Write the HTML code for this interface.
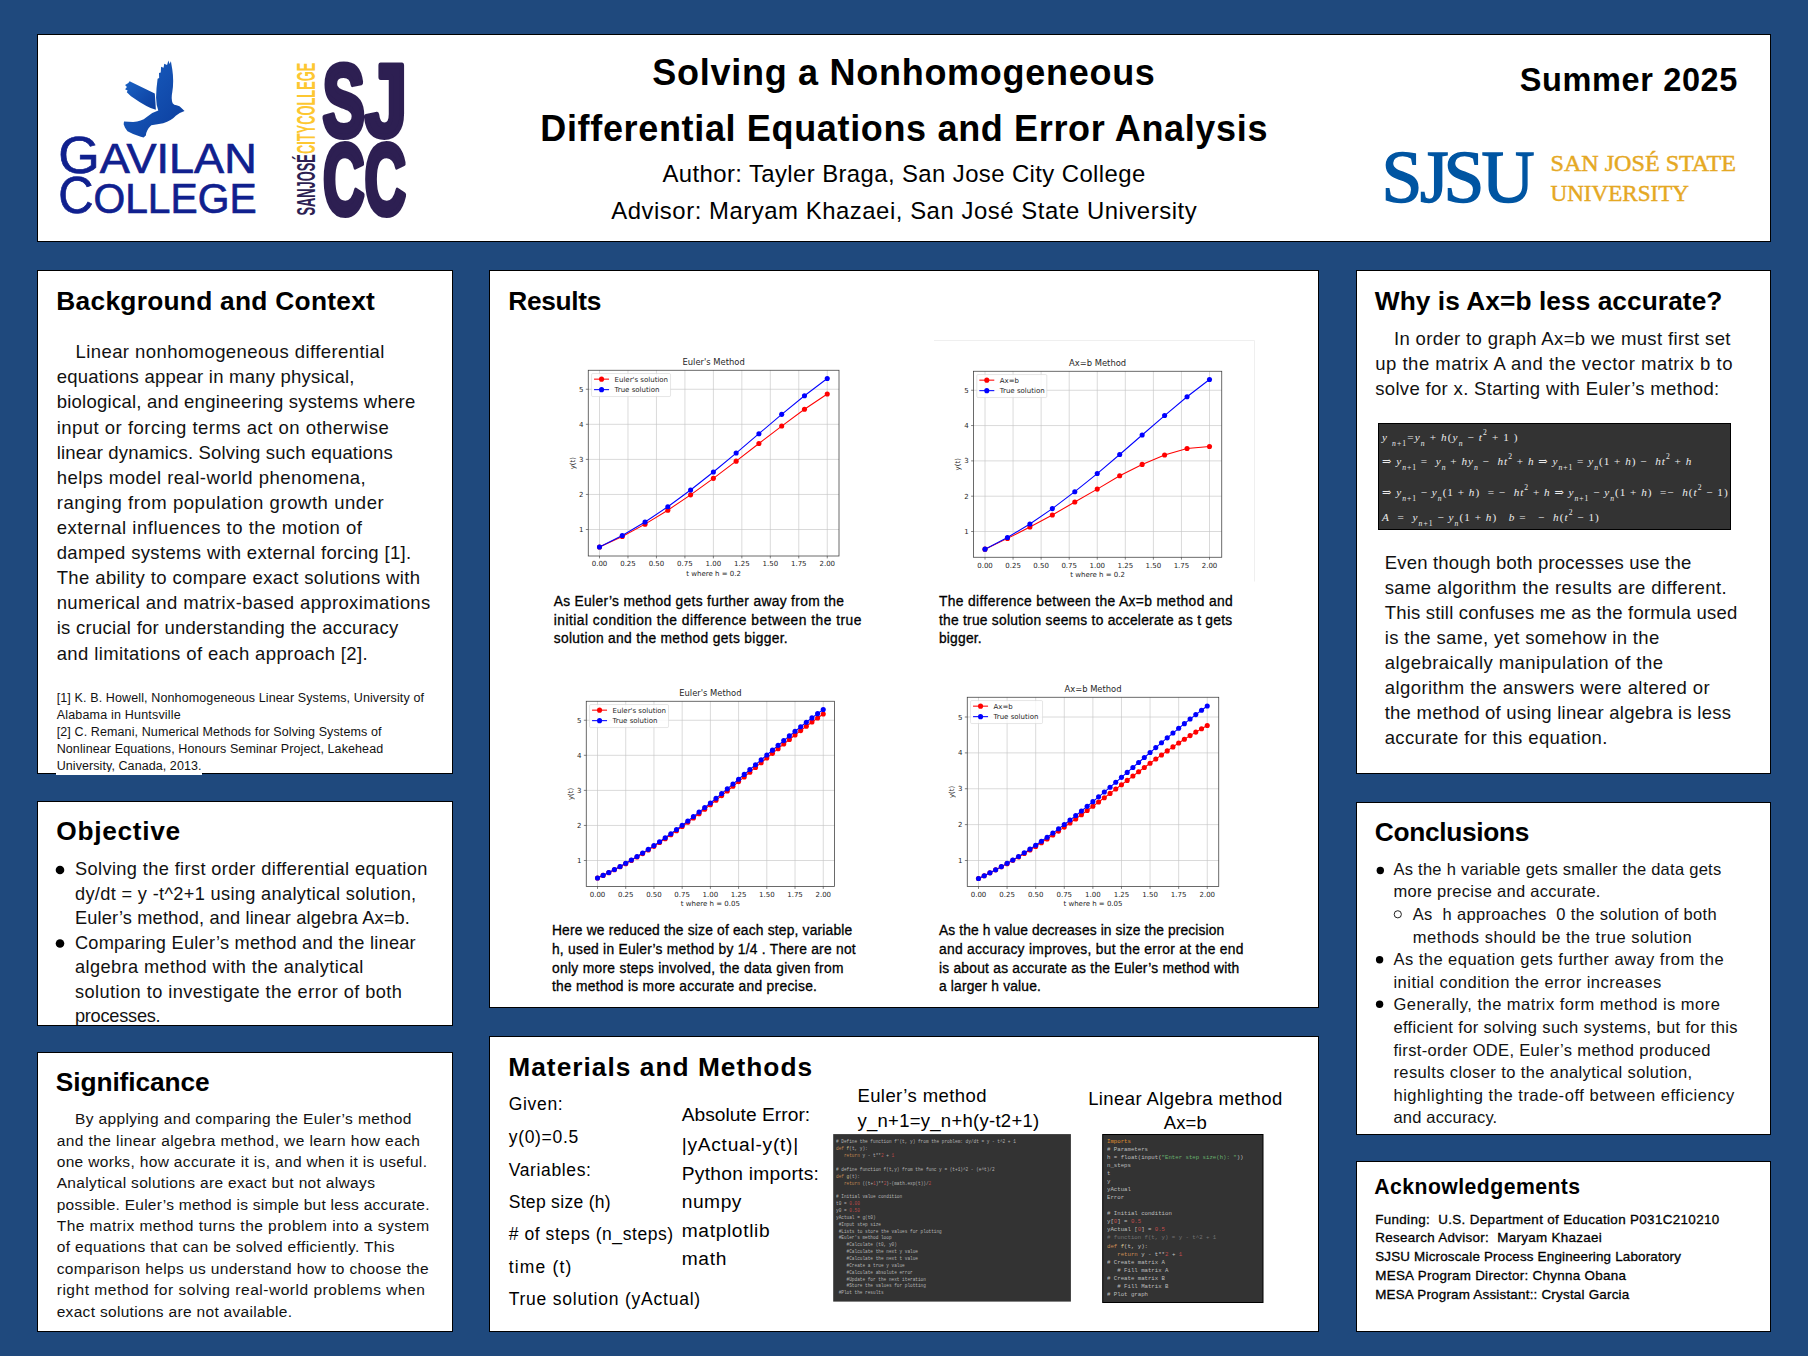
<!DOCTYPE html>
<html lang="en"><head><meta charset="utf-8"><title>Solving a Nonhomogeneous Differential Equations and Error Analysis</title>
<style>
html,body{margin:0;padding:0}
body{width:1808px;height:1356px;background:#1f497d;position:relative;overflow:hidden;font-family:'Liberation Sans',sans-serif;color:#111}
.p{position:absolute;background:#fff;border:1px solid #000;box-sizing:border-box}
.t{position:absolute;white-space:pre;line-height:0;height:0}
.h{-webkit-text-stroke:.3px #000}
.f sub,.f sup{font-size:7.6px;line-height:0}
.f sub{vertical-align:-5.2px}
.f sup{vertical-align:5.6px}
svg{position:absolute;overflow:visible}
</style></head>
<body>
<div class="p" style="left:37px;top:34px;width:1734px;height:208px"></div><div class="p" style="left:37px;top:270px;width:416px;height:504px"></div><div class="p" style="left:37px;top:801px;width:416px;height:225px"></div><div class="p" style="left:37px;top:1052px;width:416px;height:280px"></div><div class="p" style="left:489px;top:270px;width:830px;height:738px"></div><div class="p" style="left:489px;top:1036px;width:830px;height:296px"></div><div class="p" style="left:1356px;top:270px;width:415px;height:504px"></div><div class="p" style="left:1356px;top:802px;width:415px;height:333px"></div><div class="p" style="left:1356px;top:1161px;width:415px;height:171px"></div>
<svg width="1808" height="1356" viewBox="0 0 1808 1356" style="left:0;top:0"><g font-family="'DejaVu Sans',sans-serif" fill="#262626"><path d="M599.5 370.25V556M627.97 370.25V556M656.44 370.25V556M684.91 370.25V556M713.38 370.25V556M741.84 370.25V556M770.31 370.25V556M798.78 370.25V556M827.25 370.25V556M588.25 529.5H839M588.25 494.44H839M588.25 459.38H839M588.25 424.31H839M588.25 389.25H839" stroke="#c6c6c6" stroke-width=".65" fill="none"/><path d="M599.5 556v2.4M627.97 556v2.4M656.44 556v2.4M684.91 556v2.4M713.38 556v2.4M741.84 556v2.4M770.31 556v2.4M798.78 556v2.4M827.25 556v2.4M588.25 529.5h-2.4M588.25 494.44h-2.4M588.25 459.38h-2.4M588.25 424.31h-2.4M588.25 389.25h-2.4" stroke="#333" stroke-width=".6" fill="none"/><polyline points="599.5,547.03 622.27,536.51 645.05,524.17 667.83,510.2 690.6,494.84 713.38,478.37 736.15,461.13 758.92,443.53 781.7,426.06 804.48,409.3 827.25,393.96" fill="none" stroke="#f00" stroke-width="1.05"/><g fill="#f00"><circle cx="599.5" cy="547.03" r="2.55"/><circle cx="622.27" cy="536.51" r="2.55"/><circle cx="645.05" cy="524.17" r="2.55"/><circle cx="667.83" cy="510.2" r="2.55"/><circle cx="690.6" cy="494.84" r="2.55"/><circle cx="713.38" cy="478.37" r="2.55"/><circle cx="736.15" cy="461.13" r="2.55"/><circle cx="758.92" cy="443.53" r="2.55"/><circle cx="781.7" cy="426.06" r="2.55"/><circle cx="804.48" cy="409.3" r="2.55"/><circle cx="827.25" cy="393.96" r="2.55"/></g><polyline points="599.5,547.03 622.27,535.49 645.05,521.99 667.83,506.75 690.6,489.98 713.38,471.97 736.15,453.07 758.92,433.7 781.7,414.37 804.48,395.73 827.25,378.54" fill="none" stroke="#00f" stroke-width="1.05"/><g fill="#00f"><circle cx="599.5" cy="547.03" r="2.55"/><circle cx="622.27" cy="535.49" r="2.55"/><circle cx="645.05" cy="521.99" r="2.55"/><circle cx="667.83" cy="506.75" r="2.55"/><circle cx="690.6" cy="489.98" r="2.55"/><circle cx="713.38" cy="471.97" r="2.55"/><circle cx="736.15" cy="453.07" r="2.55"/><circle cx="758.92" cy="433.7" r="2.55"/><circle cx="781.7" cy="414.37" r="2.55"/><circle cx="804.48" cy="395.73" r="2.55"/><circle cx="827.25" cy="378.54" r="2.55"/></g><rect x="588.25" y="370.25" width="250.75" height="185.75" fill="none" stroke="#3a3a3a" stroke-width=".75"/><rect x="591.55" y="373.55" width="79" height="23" rx="1.2" fill="#fff" fill-opacity=".8" stroke="#d4d4d4" stroke-width=".6"/><path d="M594.05 379.15h15" stroke="#f00" stroke-width="1.05"/><circle cx="601.55" cy="379.15" r="2.55" fill="#f00"/><text x="614.55" y="381.65" font-size="7">Euler's solution</text><path d="M594.05 389.65h15" stroke="#00f" stroke-width="1.05"/><circle cx="601.55" cy="389.65" r="2.55" fill="#00f"/><text x="614.55" y="392.15" font-size="7">True solution</text><text x="599.5" y="566.4" font-size="7" text-anchor="middle">0.00</text><text x="627.97" y="566.4" font-size="7" text-anchor="middle">0.25</text><text x="656.44" y="566.4" font-size="7" text-anchor="middle">0.50</text><text x="684.91" y="566.4" font-size="7" text-anchor="middle">0.75</text><text x="713.38" y="566.4" font-size="7" text-anchor="middle">1.00</text><text x="741.84" y="566.4" font-size="7" text-anchor="middle">1.25</text><text x="770.31" y="566.4" font-size="7" text-anchor="middle">1.50</text><text x="798.78" y="566.4" font-size="7" text-anchor="middle">1.75</text><text x="827.25" y="566.4" font-size="7" text-anchor="middle">2.00</text><text x="583.35" y="532.1" font-size="7" text-anchor="end">1</text><text x="583.35" y="497.04" font-size="7" text-anchor="end">2</text><text x="583.35" y="461.98" font-size="7" text-anchor="end">3</text><text x="583.35" y="426.91" font-size="7" text-anchor="end">4</text><text x="583.35" y="391.85" font-size="7" text-anchor="end">5</text><text x="713.62" y="365.45" font-size="8.4" text-anchor="middle">Euler's Method</text><text x="713.62" y="575.7" font-size="7" text-anchor="middle">t where h = 0.2</text><text transform="translate(574.65 463.12) rotate(-90)" font-size="7" text-anchor="middle">y(t)</text></g><g font-family="'DejaVu Sans',sans-serif" fill="#262626"><path d="M985 371.25V557.25M1013.06 371.25V557.25M1041.12 371.25V557.25M1069.19 371.25V557.25M1097.25 371.25V557.25M1125.31 371.25V557.25M1153.38 371.25V557.25M1181.44 371.25V557.25M1209.5 371.25V557.25M973.5 531.5H1221.75M973.5 496.19H1221.75M973.5 460.88H1221.75M973.5 425.56H1221.75M973.5 390.25H1221.75" stroke="#c6c6c6" stroke-width=".65" fill="none"/><path d="M985 557.25v2.4M1013.06 557.25v2.4M1041.12 557.25v2.4M1069.19 557.25v2.4M1097.25 557.25v2.4M1125.31 557.25v2.4M1153.38 557.25v2.4M1181.44 557.25v2.4M1209.5 557.25v2.4M973.5 531.5h-2.4M973.5 496.19h-2.4M973.5 460.88h-2.4M973.5 425.56h-2.4M973.5 390.25h-2.4" stroke="#333" stroke-width=".6" fill="none"/><polyline points="985,549.16 1007.45,538.39 1029.9,527.02 1052.35,515.01 1074.8,502.01 1097.25,489.12 1119.7,475.71 1142.15,464.41 1164.6,455.01 1187.05,448.52 1209.5,446.5" fill="none" stroke="#f00" stroke-width="1.05"/><g fill="#f00"><circle cx="985" cy="549.16" r="2.55"/><circle cx="1007.45" cy="538.39" r="2.55"/><circle cx="1029.9" cy="527.02" r="2.55"/><circle cx="1052.35" cy="515.01" r="2.55"/><circle cx="1074.8" cy="502.01" r="2.55"/><circle cx="1097.25" cy="489.12" r="2.55"/><circle cx="1119.7" cy="475.71" r="2.55"/><circle cx="1142.15" cy="464.41" r="2.55"/><circle cx="1164.6" cy="455.01" r="2.55"/><circle cx="1187.05" cy="448.52" r="2.55"/><circle cx="1209.5" cy="446.5" r="2.55"/></g><polyline points="985,549.16 1007.45,537.53 1029.9,523.94 1052.35,508.58 1074.8,491.69 1097.25,473.56 1119.7,454.52 1142.15,435.01 1164.6,415.55 1187.05,396.78 1209.5,379.46" fill="none" stroke="#00f" stroke-width="1.05"/><g fill="#00f"><circle cx="985" cy="549.16" r="2.55"/><circle cx="1007.45" cy="537.53" r="2.55"/><circle cx="1029.9" cy="523.94" r="2.55"/><circle cx="1052.35" cy="508.58" r="2.55"/><circle cx="1074.8" cy="491.69" r="2.55"/><circle cx="1097.25" cy="473.56" r="2.55"/><circle cx="1119.7" cy="454.52" r="2.55"/><circle cx="1142.15" cy="435.01" r="2.55"/><circle cx="1164.6" cy="415.55" r="2.55"/><circle cx="1187.05" cy="396.78" r="2.55"/><circle cx="1209.5" cy="379.46" r="2.55"/></g><rect x="973.5" y="371.25" width="248.25" height="186" fill="none" stroke="#3a3a3a" stroke-width=".75"/><rect x="976.8" y="374.55" width="70" height="23" rx="1.2" fill="#fff" fill-opacity=".8" stroke="#d4d4d4" stroke-width=".6"/><path d="M979.3 380.15h15" stroke="#f00" stroke-width="1.05"/><circle cx="986.8" cy="380.15" r="2.55" fill="#f00"/><text x="999.8" y="382.65" font-size="7">Ax=b</text><path d="M979.3 390.65h15" stroke="#00f" stroke-width="1.05"/><circle cx="986.8" cy="390.65" r="2.55" fill="#00f"/><text x="999.8" y="393.15" font-size="7">True solution</text><text x="985" y="567.65" font-size="7" text-anchor="middle">0.00</text><text x="1013.06" y="567.65" font-size="7" text-anchor="middle">0.25</text><text x="1041.12" y="567.65" font-size="7" text-anchor="middle">0.50</text><text x="1069.19" y="567.65" font-size="7" text-anchor="middle">0.75</text><text x="1097.25" y="567.65" font-size="7" text-anchor="middle">1.00</text><text x="1125.31" y="567.65" font-size="7" text-anchor="middle">1.25</text><text x="1153.38" y="567.65" font-size="7" text-anchor="middle">1.50</text><text x="1181.44" y="567.65" font-size="7" text-anchor="middle">1.75</text><text x="1209.5" y="567.65" font-size="7" text-anchor="middle">2.00</text><text x="968.6" y="534.1" font-size="7" text-anchor="end">1</text><text x="968.6" y="498.79" font-size="7" text-anchor="end">2</text><text x="968.6" y="463.48" font-size="7" text-anchor="end">3</text><text x="968.6" y="428.16" font-size="7" text-anchor="end">4</text><text x="968.6" y="392.85" font-size="7" text-anchor="end">5</text><text x="1097.62" y="366.45" font-size="8.4" text-anchor="middle">Ax=b Method</text><text x="1097.62" y="576.95" font-size="7" text-anchor="middle">t where h = 0.2</text><text transform="translate(959.9 464.25) rotate(-90)" font-size="7" text-anchor="middle">y(t)</text></g><g font-family="'DejaVu Sans',sans-serif" fill="#262626"><path d="M597.5 701.25V886.5M625.72 701.25V886.5M653.94 701.25V886.5M682.16 701.25V886.5M710.38 701.25V886.5M738.59 701.25V886.5M766.81 701.25V886.5M795.03 701.25V886.5M823.25 701.25V886.5M586.25 860.5H834.5M586.25 825.44H834.5M586.25 790.38H834.5M586.25 755.31H834.5M586.25 720.25H834.5" stroke="#c6c6c6" stroke-width=".65" fill="none"/><path d="M597.5 886.5v2.4M625.72 886.5v2.4M653.94 886.5v2.4M682.16 886.5v2.4M710.38 886.5v2.4M738.59 886.5v2.4M766.81 886.5v2.4M795.03 886.5v2.4M823.25 886.5v2.4M586.25 860.5h-2.4M586.25 825.44h-2.4M586.25 790.38h-2.4M586.25 755.31h-2.4M586.25 720.25h-2.4" stroke="#333" stroke-width=".6" fill="none"/><polyline points="597.5,878.03 603.14,875.4 608.79,872.64 614.43,869.76 620.08,866.76 625.72,863.64 631.36,860.4 637.01,857.04 642.65,853.58 648.29,850.01 653.94,846.33 659.58,842.55 665.23,838.68 670.87,834.72 676.51,830.66 682.16,826.52 687.8,822.3 693.44,818.01 699.09,813.64 704.73,809.21 710.38,804.73 716.02,800.18 721.66,795.6 727.31,790.97 732.95,786.3 738.59,781.61 744.24,776.9 749.88,772.17 755.52,767.45 761.17,762.72 766.81,758.01 772.46,753.33 778.1,748.68 783.74,744.07 789.39,739.51 795.03,735.02 800.67,730.61 806.32,726.29 811.96,722.07 817.61,717.97 823.25,714.01" fill="none" stroke="#f00" stroke-width="1.05"/><g fill="#f00"><circle cx="597.5" cy="878.03" r="2.55"/><circle cx="603.14" cy="875.4" r="2.55"/><circle cx="608.79" cy="872.64" r="2.55"/><circle cx="614.43" cy="869.76" r="2.55"/><circle cx="620.08" cy="866.76" r="2.55"/><circle cx="625.72" cy="863.64" r="2.55"/><circle cx="631.36" cy="860.4" r="2.55"/><circle cx="637.01" cy="857.04" r="2.55"/><circle cx="642.65" cy="853.58" r="2.55"/><circle cx="648.29" cy="850.01" r="2.55"/><circle cx="653.94" cy="846.33" r="2.55"/><circle cx="659.58" cy="842.55" r="2.55"/><circle cx="665.23" cy="838.68" r="2.55"/><circle cx="670.87" cy="834.72" r="2.55"/><circle cx="676.51" cy="830.66" r="2.55"/><circle cx="682.16" cy="826.52" r="2.55"/><circle cx="687.8" cy="822.3" r="2.55"/><circle cx="693.44" cy="818.01" r="2.55"/><circle cx="699.09" cy="813.64" r="2.55"/><circle cx="704.73" cy="809.21" r="2.55"/><circle cx="710.38" cy="804.73" r="2.55"/><circle cx="716.02" cy="800.18" r="2.55"/><circle cx="721.66" cy="795.6" r="2.55"/><circle cx="727.31" cy="790.97" r="2.55"/><circle cx="732.95" cy="786.3" r="2.55"/><circle cx="738.59" cy="781.61" r="2.55"/><circle cx="744.24" cy="776.9" r="2.55"/><circle cx="749.88" cy="772.17" r="2.55"/><circle cx="755.52" cy="767.45" r="2.55"/><circle cx="761.17" cy="762.72" r="2.55"/><circle cx="766.81" cy="758.01" r="2.55"/><circle cx="772.46" cy="753.33" r="2.55"/><circle cx="778.1" cy="748.68" r="2.55"/><circle cx="783.74" cy="744.07" r="2.55"/><circle cx="789.39" cy="739.51" r="2.55"/><circle cx="795.03" cy="735.02" r="2.55"/><circle cx="800.67" cy="730.61" r="2.55"/><circle cx="806.32" cy="726.29" r="2.55"/><circle cx="811.96" cy="722.07" r="2.55"/><circle cx="817.61" cy="717.97" r="2.55"/><circle cx="823.25" cy="714.01" r="2.55"/></g><polyline points="597.5,878.03 603.14,875.34 608.79,872.51 614.43,869.56 620.08,866.49 625.72,863.29 631.36,859.97 637.01,856.54 642.65,852.99 648.29,849.34 653.94,845.58 659.58,841.71 665.23,837.75 670.87,833.69 676.51,829.54 682.16,825.3 687.8,820.98 693.44,816.58 699.09,812.11 704.73,807.57 710.38,802.97 716.02,798.31 721.66,793.6 727.31,788.85 732.95,784.07 738.59,779.25 744.24,774.41 749.88,769.56 755.52,764.7 761.17,759.84 766.81,754.99 772.46,750.17 778.1,745.37 783.74,740.62 789.39,735.92 795.03,731.29 800.67,726.73 806.32,722.26 811.96,717.9 817.61,713.65 823.25,709.54" fill="none" stroke="#00f" stroke-width="1.05"/><g fill="#00f"><circle cx="597.5" cy="878.03" r="2.55"/><circle cx="603.14" cy="875.34" r="2.55"/><circle cx="608.79" cy="872.51" r="2.55"/><circle cx="614.43" cy="869.56" r="2.55"/><circle cx="620.08" cy="866.49" r="2.55"/><circle cx="625.72" cy="863.29" r="2.55"/><circle cx="631.36" cy="859.97" r="2.55"/><circle cx="637.01" cy="856.54" r="2.55"/><circle cx="642.65" cy="852.99" r="2.55"/><circle cx="648.29" cy="849.34" r="2.55"/><circle cx="653.94" cy="845.58" r="2.55"/><circle cx="659.58" cy="841.71" r="2.55"/><circle cx="665.23" cy="837.75" r="2.55"/><circle cx="670.87" cy="833.69" r="2.55"/><circle cx="676.51" cy="829.54" r="2.55"/><circle cx="682.16" cy="825.3" r="2.55"/><circle cx="687.8" cy="820.98" r="2.55"/><circle cx="693.44" cy="816.58" r="2.55"/><circle cx="699.09" cy="812.11" r="2.55"/><circle cx="704.73" cy="807.57" r="2.55"/><circle cx="710.38" cy="802.97" r="2.55"/><circle cx="716.02" cy="798.31" r="2.55"/><circle cx="721.66" cy="793.6" r="2.55"/><circle cx="727.31" cy="788.85" r="2.55"/><circle cx="732.95" cy="784.07" r="2.55"/><circle cx="738.59" cy="779.25" r="2.55"/><circle cx="744.24" cy="774.41" r="2.55"/><circle cx="749.88" cy="769.56" r="2.55"/><circle cx="755.52" cy="764.7" r="2.55"/><circle cx="761.17" cy="759.84" r="2.55"/><circle cx="766.81" cy="754.99" r="2.55"/><circle cx="772.46" cy="750.17" r="2.55"/><circle cx="778.1" cy="745.37" r="2.55"/><circle cx="783.74" cy="740.62" r="2.55"/><circle cx="789.39" cy="735.92" r="2.55"/><circle cx="795.03" cy="731.29" r="2.55"/><circle cx="800.67" cy="726.73" r="2.55"/><circle cx="806.32" cy="722.26" r="2.55"/><circle cx="811.96" cy="717.9" r="2.55"/><circle cx="817.61" cy="713.65" r="2.55"/><circle cx="823.25" cy="709.54" r="2.55"/></g><rect x="586.25" y="701.25" width="248.25" height="185.25" fill="none" stroke="#3a3a3a" stroke-width=".75"/><rect x="589.55" y="704.55" width="79" height="23" rx="1.2" fill="#fff" fill-opacity=".8" stroke="#d4d4d4" stroke-width=".6"/><path d="M592.05 710.15h15" stroke="#f00" stroke-width="1.05"/><circle cx="599.55" cy="710.15" r="2.55" fill="#f00"/><text x="612.55" y="712.65" font-size="7">Euler's solution</text><path d="M592.05 720.65h15" stroke="#00f" stroke-width="1.05"/><circle cx="599.55" cy="720.65" r="2.55" fill="#00f"/><text x="612.55" y="723.15" font-size="7">True solution</text><text x="597.5" y="896.9" font-size="7" text-anchor="middle">0.00</text><text x="625.72" y="896.9" font-size="7" text-anchor="middle">0.25</text><text x="653.94" y="896.9" font-size="7" text-anchor="middle">0.50</text><text x="682.16" y="896.9" font-size="7" text-anchor="middle">0.75</text><text x="710.38" y="896.9" font-size="7" text-anchor="middle">1.00</text><text x="738.59" y="896.9" font-size="7" text-anchor="middle">1.25</text><text x="766.81" y="896.9" font-size="7" text-anchor="middle">1.50</text><text x="795.03" y="896.9" font-size="7" text-anchor="middle">1.75</text><text x="823.25" y="896.9" font-size="7" text-anchor="middle">2.00</text><text x="581.35" y="863.1" font-size="7" text-anchor="end">1</text><text x="581.35" y="828.04" font-size="7" text-anchor="end">2</text><text x="581.35" y="792.98" font-size="7" text-anchor="end">3</text><text x="581.35" y="757.91" font-size="7" text-anchor="end">4</text><text x="581.35" y="722.85" font-size="7" text-anchor="end">5</text><text x="710.38" y="696.45" font-size="8.4" text-anchor="middle">Euler's Method</text><text x="710.38" y="906.2" font-size="7" text-anchor="middle">t where h = 0.05</text><text transform="translate(572.65 793.88) rotate(-90)" font-size="7" text-anchor="middle">y(t)</text></g><g font-family="'DejaVu Sans',sans-serif" fill="#262626"><path d="M978.5 697.25V886.5M1007.09 697.25V886.5M1035.69 697.25V886.5M1064.28 697.25V886.5M1092.88 697.25V886.5M1121.47 697.25V886.5M1150.06 697.25V886.5M1178.66 697.25V886.5M1207.25 697.25V886.5M967.25 860.5H1218.75M967.25 824.62H1218.75M967.25 788.75H1218.75M967.25 752.88H1218.75M967.25 717H1218.75" stroke="#c6c6c6" stroke-width=".65" fill="none"/><path d="M978.5 886.5v2.4M1007.09 886.5v2.4M1035.69 886.5v2.4M1064.28 886.5v2.4M1092.88 886.5v2.4M1121.47 886.5v2.4M1150.06 886.5v2.4M1178.66 886.5v2.4M1207.25 886.5v2.4M967.25 860.5h-2.4M967.25 824.62h-2.4M967.25 788.75h-2.4M967.25 752.88h-2.4M967.25 717h-2.4" stroke="#333" stroke-width=".6" fill="none"/><polyline points="978.5,878.44 984.22,875.69 989.94,872.84 995.66,869.87 1001.38,866.81 1007.09,863.64 1012.81,860.37 1018.53,857.01 1024.25,853.56 1029.97,850.01 1035.69,846.38 1041.41,842.67 1047.12,838.88 1052.84,835.02 1058.56,831.09 1064.28,827.09 1070,823.03 1075.72,818.92 1081.44,814.75 1087.16,810.54 1092.88,806.3 1098.59,802.02 1104.31,797.71 1110.03,793.39 1115.75,789.06 1121.47,784.72 1127.19,780.38 1132.91,776.06 1138.62,771.75 1144.34,767.48 1150.06,763.24 1155.78,759.06 1161.5,754.93 1167.22,750.88 1172.94,746.91 1178.66,743.03 1184.38,739.26 1190.09,735.62 1195.81,732.11 1201.53,728.75 1207.25,725.56" fill="none" stroke="#f00" stroke-width="1.05"/><g fill="#f00"><circle cx="978.5" cy="878.44" r="2.55"/><circle cx="984.22" cy="875.69" r="2.55"/><circle cx="989.94" cy="872.84" r="2.55"/><circle cx="995.66" cy="869.87" r="2.55"/><circle cx="1001.38" cy="866.81" r="2.55"/><circle cx="1007.09" cy="863.64" r="2.55"/><circle cx="1012.81" cy="860.37" r="2.55"/><circle cx="1018.53" cy="857.01" r="2.55"/><circle cx="1024.25" cy="853.56" r="2.55"/><circle cx="1029.97" cy="850.01" r="2.55"/><circle cx="1035.69" cy="846.38" r="2.55"/><circle cx="1041.41" cy="842.67" r="2.55"/><circle cx="1047.12" cy="838.88" r="2.55"/><circle cx="1052.84" cy="835.02" r="2.55"/><circle cx="1058.56" cy="831.09" r="2.55"/><circle cx="1064.28" cy="827.09" r="2.55"/><circle cx="1070" cy="823.03" r="2.55"/><circle cx="1075.72" cy="818.92" r="2.55"/><circle cx="1081.44" cy="814.75" r="2.55"/><circle cx="1087.16" cy="810.54" r="2.55"/><circle cx="1092.88" cy="806.3" r="2.55"/><circle cx="1098.59" cy="802.02" r="2.55"/><circle cx="1104.31" cy="797.71" r="2.55"/><circle cx="1110.03" cy="793.39" r="2.55"/><circle cx="1115.75" cy="789.06" r="2.55"/><circle cx="1121.47" cy="784.72" r="2.55"/><circle cx="1127.19" cy="780.38" r="2.55"/><circle cx="1132.91" cy="776.06" r="2.55"/><circle cx="1138.62" cy="771.75" r="2.55"/><circle cx="1144.34" cy="767.48" r="2.55"/><circle cx="1150.06" cy="763.24" r="2.55"/><circle cx="1155.78" cy="759.06" r="2.55"/><circle cx="1161.5" cy="754.93" r="2.55"/><circle cx="1167.22" cy="750.88" r="2.55"/><circle cx="1172.94" cy="746.91" r="2.55"/><circle cx="1178.66" cy="743.03" r="2.55"/><circle cx="1184.38" cy="739.26" r="2.55"/><circle cx="1190.09" cy="735.62" r="2.55"/><circle cx="1195.81" cy="732.11" r="2.55"/><circle cx="1201.53" cy="728.75" r="2.55"/><circle cx="1207.25" cy="725.56" r="2.55"/></g><polyline points="978.5,878.44 984.22,875.68 989.94,872.79 995.66,869.77 1001.38,866.62 1007.09,863.35 1012.81,859.96 1018.53,856.45 1024.25,852.82 1029.97,849.08 1035.69,845.23 1041.41,841.28 1047.12,837.22 1052.84,833.07 1058.56,828.82 1064.28,824.48 1070,820.06 1075.72,815.56 1081.44,810.99 1087.16,806.34 1092.88,801.63 1098.59,796.87 1104.31,792.05 1110.03,787.19 1115.75,782.29 1121.47,777.37 1127.19,772.41 1132.91,767.45 1138.62,762.48 1144.34,757.5 1150.06,752.55 1155.78,747.61 1161.5,742.71 1167.22,737.84 1172.94,733.04 1178.66,728.29 1184.38,723.63 1190.09,719.06 1195.81,714.59 1201.53,710.25 1207.25,706.04" fill="none" stroke="#00f" stroke-width="1.05"/><g fill="#00f"><circle cx="978.5" cy="878.44" r="2.55"/><circle cx="984.22" cy="875.68" r="2.55"/><circle cx="989.94" cy="872.79" r="2.55"/><circle cx="995.66" cy="869.77" r="2.55"/><circle cx="1001.38" cy="866.62" r="2.55"/><circle cx="1007.09" cy="863.35" r="2.55"/><circle cx="1012.81" cy="859.96" r="2.55"/><circle cx="1018.53" cy="856.45" r="2.55"/><circle cx="1024.25" cy="852.82" r="2.55"/><circle cx="1029.97" cy="849.08" r="2.55"/><circle cx="1035.69" cy="845.23" r="2.55"/><circle cx="1041.41" cy="841.28" r="2.55"/><circle cx="1047.12" cy="837.22" r="2.55"/><circle cx="1052.84" cy="833.07" r="2.55"/><circle cx="1058.56" cy="828.82" r="2.55"/><circle cx="1064.28" cy="824.48" r="2.55"/><circle cx="1070" cy="820.06" r="2.55"/><circle cx="1075.72" cy="815.56" r="2.55"/><circle cx="1081.44" cy="810.99" r="2.55"/><circle cx="1087.16" cy="806.34" r="2.55"/><circle cx="1092.88" cy="801.63" r="2.55"/><circle cx="1098.59" cy="796.87" r="2.55"/><circle cx="1104.31" cy="792.05" r="2.55"/><circle cx="1110.03" cy="787.19" r="2.55"/><circle cx="1115.75" cy="782.29" r="2.55"/><circle cx="1121.47" cy="777.37" r="2.55"/><circle cx="1127.19" cy="772.41" r="2.55"/><circle cx="1132.91" cy="767.45" r="2.55"/><circle cx="1138.62" cy="762.48" r="2.55"/><circle cx="1144.34" cy="757.5" r="2.55"/><circle cx="1150.06" cy="752.55" r="2.55"/><circle cx="1155.78" cy="747.61" r="2.55"/><circle cx="1161.5" cy="742.71" r="2.55"/><circle cx="1167.22" cy="737.84" r="2.55"/><circle cx="1172.94" cy="733.04" r="2.55"/><circle cx="1178.66" cy="728.29" r="2.55"/><circle cx="1184.38" cy="723.63" r="2.55"/><circle cx="1190.09" cy="719.06" r="2.55"/><circle cx="1195.81" cy="714.59" r="2.55"/><circle cx="1201.53" cy="710.25" r="2.55"/><circle cx="1207.25" cy="706.04" r="2.55"/></g><rect x="967.25" y="697.25" width="251.5" height="189.25" fill="none" stroke="#3a3a3a" stroke-width=".75"/><rect x="970.55" y="700.55" width="72" height="23" rx="1.2" fill="#fff" fill-opacity=".8" stroke="#d4d4d4" stroke-width=".6"/><path d="M973.05 706.15h15" stroke="#f00" stroke-width="1.05"/><circle cx="980.55" cy="706.15" r="2.55" fill="#f00"/><text x="993.55" y="708.65" font-size="7">Ax=b</text><path d="M973.05 716.65h15" stroke="#00f" stroke-width="1.05"/><circle cx="980.55" cy="716.65" r="2.55" fill="#00f"/><text x="993.55" y="719.15" font-size="7">True solution</text><text x="978.5" y="896.9" font-size="7" text-anchor="middle">0.00</text><text x="1007.09" y="896.9" font-size="7" text-anchor="middle">0.25</text><text x="1035.69" y="896.9" font-size="7" text-anchor="middle">0.50</text><text x="1064.28" y="896.9" font-size="7" text-anchor="middle">0.75</text><text x="1092.88" y="896.9" font-size="7" text-anchor="middle">1.00</text><text x="1121.47" y="896.9" font-size="7" text-anchor="middle">1.25</text><text x="1150.06" y="896.9" font-size="7" text-anchor="middle">1.50</text><text x="1178.66" y="896.9" font-size="7" text-anchor="middle">1.75</text><text x="1207.25" y="896.9" font-size="7" text-anchor="middle">2.00</text><text x="962.35" y="863.1" font-size="7" text-anchor="end">1</text><text x="962.35" y="827.23" font-size="7" text-anchor="end">2</text><text x="962.35" y="791.35" font-size="7" text-anchor="end">3</text><text x="962.35" y="755.48" font-size="7" text-anchor="end">4</text><text x="962.35" y="719.6" font-size="7" text-anchor="end">5</text><text x="1093" y="692.45" font-size="8.4" text-anchor="middle">Ax=b Method</text><text x="1093" y="906.2" font-size="7" text-anchor="middle">t where h = 0.05</text><text transform="translate(953.65 791.88) rotate(-90)" font-size="7" text-anchor="middle">y(t)</text></g><path d="M934 340.5H1254.5V581.5" fill="none" stroke="#efefef" stroke-width="1"/><circle cx="60" cy="870" r="4.3" fill="#000"/><circle cx="60" cy="943.5" r="4.3" fill="#000"/><circle cx="1380.3" cy="870.5" r="3.7" fill="#000"/><circle cx="1379.6" cy="959.8" r="3.7" fill="#000"/><circle cx="1379.6" cy="1004.3" r="3.7" fill="#000"/><circle cx="1397.8" cy="914.3" r="3.6" fill="none" stroke="#222" stroke-width="1"/><defs><linearGradient id="bg" x1="0" y1="0" x2="1" y2="1"><stop offset="0" stop-color="#1a62c4"/><stop offset="1" stop-color="#0c3c9c"/></linearGradient></defs><g transform="translate(110 50) scale(.07)" fill="url(#bg)"><path d="M640 620L280 448L262 472L215 500L242 530L215 560L252 580L240 605L300 660Q420 745 520 800Q600 845 655 852L650 760Z"/><path d="M1065 870L1020 830Q1000 795 950 790Q915 785 895 760Q870 700 890 600Q915 450 890 280L870 160L850 200L835 150L815 215L775 195L765 255L730 240L725 320L700 330L702 400L680 410Q660 550 658 680Q660 790 690 865Q600 890 520 960Q450 1020 330 1030L200 1020L195 1060L215 1110L250 1160L330 1200L440 1240L480 1250L512 1220Q520 1140 590 1075Q680 1055 760 1045Q880 1010 940 940Q985 895 1065 870Z"/></g><g font-family="'Liberation Sans',sans-serif" fill="#10208e" stroke="#10208e" stroke-width=".7"><text x="58.2" y="172.5" textLength="198.5" lengthAdjust="spacingAndGlyphs"><tspan font-size="51.5">G</tspan><tspan font-size="43.4">AVILAN</tspan></text><text x="58.2" y="212.6" textLength="198.5" lengthAdjust="spacingAndGlyphs"><tspan font-size="51.5">C</tspan><tspan font-size="43">OLLEGE</tspan></text></g><g font-family="'Liberation Sans',sans-serif" font-weight="700" fill="#2d1f52" stroke="#2d1f52" stroke-width="6" stroke-linejoin="round" lengthAdjust="spacingAndGlyphs"><text x="322.6" y="135.8" font-size="101.5" textLength="42.4" lengthAdjust="spacingAndGlyphs">S</text><text x="365" y="135.8" font-size="101.5" textLength="42" lengthAdjust="spacingAndGlyphs">J</text><text x="323" y="213.5" font-size="100" textLength="41.5" lengthAdjust="spacingAndGlyphs">C</text><text x="364.6" y="213.5" font-size="100" textLength="41.5" lengthAdjust="spacingAndGlyphs">C</text></g><text transform="translate(314.8 215.6) rotate(-90)" font-family="'Liberation Sans',sans-serif" font-weight="700" font-size="25" textLength="153" lengthAdjust="spacingAndGlyphs" fill="#2d1f52">SANJOSÉ<tspan fill="#fdc731">CITYCOLLEGE</tspan></text><g font-family="'Liberation Serif',serif"><text x="1381.6 1420 1443.4 1481.4" y="201.6" font-size="73.5" fill="#0055a2" stroke="#0055a2" stroke-width="1.5">SJSU</text><g fill="#e5a823" stroke="#e5a823" stroke-width=".45" font-size="22.6"><text x="1550.5" y="170.5" textLength="185.5" lengthAdjust="spacingAndGlyphs">SAN JOSÉ STATE</text><text x="1550.5" y="200.5" textLength="138.5" lengthAdjust="spacingAndGlyphs">UNIVERSITY</text></g></g><rect x="833.2" y="1134.1" width="237.7" height="167.5" fill="#333" /><g transform="translate(836 1142.0) scale(0.4430)" font-family="'Liberation Mono',monospace" font-size="10" opacity="0.85" style="white-space:pre"><text xml:space="preserve" x="0" y="3.2" fill="#c8c8c8"># Define the function f'(t, y) from the problem: dy/dt = y - t^2 + 1</text><text xml:space="preserve" x="0" y="18.7" fill="#d9985a">def <tspan fill='#e6d9a0'>f</tspan><tspan fill='#c8c8c8'>(t, y):</tspan></text><text xml:space="preserve" x="0" y="34.1" fill="#d9985a">   return <tspan fill='#c8c8c8'>y - t**</tspan><tspan fill='#d05050'>2</tspan><tspan fill='#c8c8c8'> + </tspan><tspan fill='#d05050'>1</tspan></text><text xml:space="preserve" x="0" y="65.1" fill="#c8c8c8"># define function f(t,y) from the func y = (t+1)^2 - (e^t)/2</text><text xml:space="preserve" x="0" y="80.6" fill="#d9985a">def <tspan fill='#e6d9a0'>g</tspan><tspan fill='#c8c8c8'>(t):</tspan></text><text xml:space="preserve" x="0" y="96.0" fill="#d9985a">   return <tspan fill='#c8c8c8'>((t+</tspan><tspan fill='#d05050'>1</tspan><tspan fill='#c8c8c8'>)**</tspan><tspan fill='#d05050'>2</tspan><tspan fill='#c8c8c8'>)-(math.exp(t))/</tspan><tspan fill='#d05050'>2</tspan></text><text xml:space="preserve" x="0" y="127.0" fill="#c8c8c8"># Initial value condition</text><text xml:space="preserve" x="0" y="142.5" fill="#c8c8c8">t0 = <tspan fill='#d05050'>0.00</tspan></text><text xml:space="preserve" x="0" y="157.9" fill="#c8c8c8">y0 = <tspan fill='#d05050'>0.50</tspan></text><text xml:space="preserve" x="0" y="173.4" fill="#c8c8c8">yActual = g(t0)</text><text xml:space="preserve" x="0" y="188.9" fill="#c8c8c8"> #Input step size</text><text xml:space="preserve" x="0" y="204.4" fill="#c8c8c8"> #Lists to store the values for plotting</text><text xml:space="preserve" x="0" y="219.8" fill="#c8c8c8"> #Euler's method loop</text><text xml:space="preserve" x="0" y="235.3" fill="#c8c8c8">    #Calculate (t0, y0)</text><text xml:space="preserve" x="0" y="250.8" fill="#c8c8c8">    #Calculate the next y value</text><text xml:space="preserve" x="0" y="266.3" fill="#c8c8c8">    #Calculate the next t value</text><text xml:space="preserve" x="0" y="281.7" fill="#c8c8c8">    #Create a true y value</text><text xml:space="preserve" x="0" y="297.2" fill="#c8c8c8">    #Calculate absolute error</text><text xml:space="preserve" x="0" y="312.7" fill="#c8c8c8">    #Update for the next iteration</text><text xml:space="preserve" x="0" y="328.2" fill="#c8c8c8">    #Store the values for plotting</text><text xml:space="preserve" x="0" y="343.6" fill="#c8c8c8"> #Plot the results</text></g><rect x="1102.7" y="1134.5" width="160.3" height="168" fill="#333" stroke="#000" stroke-width="1"/><g transform="translate(1107 1141.3) scale(0.5690)" font-family="'Liberation Mono',monospace" font-size="10" opacity="0.92" style="white-space:pre"><text xml:space="preserve" x="0" y="3.2" fill="#e8962e">Imports</text><text xml:space="preserve" x="0" y="17.3" fill="#c8c8c8"># Parameters</text><text xml:space="preserve" x="0" y="31.4" fill="#c8c8c8">h = float(input(<tspan fill='#6fbf73'>"Enter step size(h): "</tspan>))</text><text xml:space="preserve" x="0" y="45.5" fill="#c8c8c8">n_steps</text><text xml:space="preserve" x="0" y="59.6" fill="#c8c8c8">t</text><text xml:space="preserve" x="0" y="73.8" fill="#c8c8c8">y</text><text xml:space="preserve" x="0" y="87.9" fill="#c8c8c8">yActual</text><text xml:space="preserve" x="0" y="102.0" fill="#c8c8c8">Error</text><text xml:space="preserve" x="0" y="130.2" fill="#c8c8c8"># Initial condition</text><text xml:space="preserve" x="0" y="144.3" fill="#c8c8c8">y[<tspan fill='#d05050'>0</tspan>] = <tspan fill='#d05050'>0.5</tspan></text><text xml:space="preserve" x="0" y="158.4" fill="#c8c8c8">yActual [<tspan fill='#d05050'>0</tspan>] = <tspan fill='#d05050'>0.5</tspan></text><text xml:space="preserve" x="0" y="172.5" fill="#7a7a7a"># function f(t, y) = y - t^2 + 1</text><text xml:space="preserve" x="0" y="186.7" fill="#d9985a">def <tspan fill='#e6d9a0'>f</tspan><tspan fill='#d0d0d0'>(t, y):</tspan></text><text xml:space="preserve" x="0" y="200.8" fill="#d9985a">   return <tspan fill='#d0d0d0'>y - t**</tspan><tspan fill='#d05050'>2</tspan><tspan fill='#d0d0d0'> + </tspan><tspan fill='#d05050'>1</tspan></text><text xml:space="preserve" x="0" y="214.9" fill="#c8c8c8"># Create matrix A</text><text xml:space="preserve" x="0" y="229.0" fill="#c8c8c8">   # Fill matrix A</text><text xml:space="preserve" x="0" y="243.1" fill="#c8c8c8"># Create matrix B</text><text xml:space="preserve" x="0" y="257.2" fill="#c8c8c8">   # Fill Matrix B</text><text xml:space="preserve" x="0" y="271.3" fill="#c8c8c8"># Plot graph</text></g></svg>
<div style="position:absolute;left:1378px;top:423px;width:353px;height:107px;box-sizing:border-box;background:#333;border:1px solid #000"></div>
<div class="t" style="left:652.30px;top:73.00px;font-size:36px;font-weight:700;color:#000;letter-spacing:0.720px;">Solving a Nonhomogeneous</div>
<div class="t" style="left:540.30px;top:128.75px;font-size:36px;font-weight:700;color:#000;letter-spacing:0.657px;">Differential Equations and Error Analysis</div>
<div class="t" style="left:662.45px;top:173.75px;font-size:23.9px;color:#000;letter-spacing:0.407px;">Author: Tayler Braga, San Jose City College</div>
<div class="t" style="left:611.20px;top:210.75px;font-size:23.9px;color:#000;letter-spacing:0.540px;">Advisor: Maryam Khazaei, San José State University</div>
<div class="t" style="left:1519.80px;top:79.50px;font-size:32.5px;font-weight:700;color:#000;letter-spacing:0.621px;">Summer 2025</div>
<div class="t" style="left:56.30px;top:300.50px;font-size:26.3px;font-weight:700;color:#000;letter-spacing:0.282px;">Background and Context</div>
<div class="t" style="left:508.30px;top:300.50px;font-size:26.3px;font-weight:700;color:#000;letter-spacing:-0.317px;">Results</div>
<div class="t" style="left:1374.80px;top:300.50px;font-size:26.3px;font-weight:700;color:#000;letter-spacing:0.058px;">Why is Ax=b less accurate?</div>
<div class="t" style="left:56.30px;top:831.00px;font-size:26.3px;font-weight:700;color:#000;letter-spacing:0.682px;">Objective</div>
<div class="t" style="left:1374.80px;top:832.00px;font-size:26.3px;font-weight:700;color:#000;letter-spacing:-0.320px;">Conclusions</div>
<div class="t" style="left:55.80px;top:1082.25px;font-size:26.3px;font-weight:700;color:#000;letter-spacing:-0.096px;">Significance</div>
<div class="t" style="left:508.30px;top:1066.75px;font-size:26.3px;font-weight:700;color:#000;letter-spacing:1.018px;">Materials and Methods</div>
<div class="t" style="left:1374.30px;top:1187.00px;font-size:21.2px;font-weight:700;color:#000;letter-spacing:0.458px;">Acknowledgements</div>
<div class="t" style="left:75.45px;top:351.75px;font-size:18.5px;letter-spacing:0.429px;">Linear nonhomogeneous differential</div>
<div class="t" style="left:56.70px;top:377.25px;font-size:18.5px;letter-spacing:0.234px;">equations appear in many physical,</div>
<div class="t" style="left:56.70px;top:402.25px;font-size:18.5px;letter-spacing:0.247px;">biological, and engineering systems where</div>
<div class="t" style="left:56.70px;top:427.50px;font-size:18.5px;letter-spacing:0.484px;">input or forcing terms act on otherwise</div>
<div class="t" style="left:56.70px;top:452.50px;font-size:18.5px;letter-spacing:0.182px;">linear dynamics. Solving such equations</div>
<div class="t" style="left:56.70px;top:477.50px;font-size:18.5px;letter-spacing:0.465px;">helps model real-world phenomena,</div>
<div class="t" style="left:56.70px;top:502.50px;font-size:18.5px;letter-spacing:0.557px;">ranging from population growth under</div>
<div class="t" style="left:56.70px;top:527.75px;font-size:18.5px;letter-spacing:0.524px;">external influences to the motion of</div>
<div class="t" style="left:56.70px;top:553.00px;font-size:18.5px;letter-spacing:0.354px;">damped systems with external forcing [1].</div>
<div class="t" style="left:56.70px;top:577.75px;font-size:18.5px;letter-spacing:0.379px;">The ability to compare exact solutions with</div>
<div class="t" style="left:56.70px;top:603.00px;font-size:18.5px;letter-spacing:0.366px;">numerical and matrix-based approximations</div>
<div class="t" style="left:56.70px;top:628.00px;font-size:18.5px;letter-spacing:0.259px;">is crucial for understanding the accuracy</div>
<div class="t" style="left:56.70px;top:653.50px;font-size:18.5px;letter-spacing:0.383px;">and limitations of each approach [2].</div>
<div class="t" style="left:56.70px;top:698.25px;font-size:12.5px;letter-spacing:0.121px;">[1] K. B. Howell, Nonhomogeneous Linear Systems, University of</div>
<div class="t" style="left:56.70px;top:714.75px;font-size:12.5px;letter-spacing:0.190px;">Alabama in Huntsville</div>
<div class="t" style="left:56.70px;top:732.00px;font-size:12.5px;letter-spacing:0.109px;">[2] C. Remani, Numerical Methods for Solving Systems of</div>
<div class="t" style="left:56.70px;top:749.00px;font-size:12.5px;letter-spacing:0.103px;">Nonlinear Equations, Honours Seminar Project, Lakehead</div>
<div class="t" style="left:56.70px;top:766.00px;font-size:12.5px;letter-spacing:0.077px;">University, Canada, 2013.</div>
<div class="t" style="left:74.95px;top:868.75px;font-size:18.2px;letter-spacing:0.390px;">Solving the first order differential equation</div>
<div class="t" style="left:74.95px;top:893.75px;font-size:18.2px;letter-spacing:0.339px;">dy/dt = y -t^2+1 using analytical solution,</div>
<div class="t" style="left:74.95px;top:917.75px;font-size:18.2px;letter-spacing:0.168px;">Euler’s method, and linear algebra Ax=b.</div>
<div class="t" style="left:74.95px;top:942.75px;font-size:18.2px;letter-spacing:0.258px;">Comparing Euler’s method and the linear</div>
<div class="t" style="left:74.95px;top:967.00px;font-size:18.2px;letter-spacing:0.402px;">algebra method with the analytical</div>
<div class="t" style="left:74.95px;top:991.50px;font-size:18.2px;letter-spacing:0.441px;">solution to investigate the error of both</div>
<div class="t" style="left:74.95px;top:1016.00px;font-size:18.2px;letter-spacing:-0.245px;">processes.</div>
<div class="t" style="left:74.95px;top:1119.00px;font-size:15.5px;letter-spacing:0.364px;">By applying and comparing the Euler’s method</div>
<div class="t" style="left:56.70px;top:1140.75px;font-size:15.5px;letter-spacing:0.414px;">and the linear algebra method, we learn how each</div>
<div class="t" style="left:56.70px;top:1162.00px;font-size:15.5px;letter-spacing:0.344px;">one works, how accurate it is, and when it is useful.</div>
<div class="t" style="left:56.70px;top:1183.25px;font-size:15.5px;letter-spacing:0.340px;">Analytical solutions are exact but not always</div>
<div class="t" style="left:56.70px;top:1205.00px;font-size:15.5px;letter-spacing:0.254px;">possible. Euler’s method is simple but less accurate.</div>
<div class="t" style="left:56.70px;top:1226.25px;font-size:15.5px;letter-spacing:0.474px;">The matrix method turns the problem into a system</div>
<div class="t" style="left:56.70px;top:1247.00px;font-size:15.5px;letter-spacing:0.376px;">of equations that can be solved efficiently. This</div>
<div class="t" style="left:56.70px;top:1268.75px;font-size:15.5px;letter-spacing:0.380px;">comparison helps us understand how to choose the</div>
<div class="t" style="left:56.70px;top:1290.00px;font-size:15.5px;letter-spacing:0.528px;">right method for solving real-world problems when</div>
<div class="t" style="left:56.70px;top:1311.50px;font-size:15.5px;letter-spacing:0.314px;">exact solutions are not available.</div>
<div class="t h" style="left:553.70px;top:602.00px;font-size:13.8px;color:#000;letter-spacing:0.324px;">As Euler’s method gets further away from the</div>
<div class="t h" style="left:553.70px;top:620.75px;font-size:13.8px;color:#000;letter-spacing:0.488px;">initial condition the difference between the true</div>
<div class="t h" style="left:553.70px;top:639.00px;font-size:13.8px;color:#000;letter-spacing:0.330px;">solution and the method gets bigger.</div>
<div class="t h" style="left:938.95px;top:602.00px;font-size:13.8px;color:#000;letter-spacing:0.370px;">The difference between the Ax=b method and</div>
<div class="t h" style="left:938.95px;top:620.75px;font-size:13.8px;color:#000;letter-spacing:0.256px;">the true solution seems to accelerate as t gets</div>
<div class="t h" style="left:938.95px;top:639.00px;font-size:13.8px;color:#000;letter-spacing:0.219px;">bigger.</div>
<div class="t h" style="left:551.95px;top:931.00px;font-size:13.8px;color:#000;letter-spacing:0.192px;">Here we reduced the size of each step, variable</div>
<div class="t h" style="left:551.95px;top:949.75px;font-size:13.8px;color:#000;letter-spacing:0.262px;">h, used in Euler’s method by 1/4 . There are not</div>
<div class="t h" style="left:551.95px;top:969.00px;font-size:13.8px;color:#000;letter-spacing:0.315px;">only more steps involved, the data given from</div>
<div class="t h" style="left:551.95px;top:987.00px;font-size:13.8px;color:#000;letter-spacing:0.286px;">the method is more accurate and precise.</div>
<div class="t h" style="left:938.95px;top:931.00px;font-size:13.8px;color:#000;letter-spacing:0.118px;">As the h value decreases in size the precision</div>
<div class="t h" style="left:938.95px;top:949.75px;font-size:13.8px;color:#000;letter-spacing:0.318px;">and accuracy improves, but the error at the end</div>
<div class="t h" style="left:938.95px;top:969.00px;font-size:13.8px;color:#000;letter-spacing:0.236px;">is about as accurate as the Euler’s method with</div>
<div class="t h" style="left:938.95px;top:987.00px;font-size:13.8px;color:#000;letter-spacing:0.191px;">a larger h value.</div>
<div class="t" style="left:1393.95px;top:338.50px;font-size:18.5px;letter-spacing:0.363px;">In order to graph Ax=b we must first set</div>
<div class="t" style="left:1375.20px;top:363.50px;font-size:18.5px;letter-spacing:0.512px;">up the matrix A and the vector matrix b to</div>
<div class="t" style="left:1375.20px;top:388.50px;font-size:18.5px;letter-spacing:0.331px;">solve for x. Starting with Euler’s method:</div>
<div class="t" style="left:1384.70px;top:562.50px;font-size:18.5px;letter-spacing:0.187px;">Even though both processes use the</div>
<div class="t" style="left:1384.70px;top:587.50px;font-size:18.5px;letter-spacing:0.409px;">same algorithm the results are different.</div>
<div class="t" style="left:1384.70px;top:612.50px;font-size:18.5px;letter-spacing:0.196px;">This still confuses me as the formula used</div>
<div class="t" style="left:1384.70px;top:638.00px;font-size:18.5px;letter-spacing:0.341px;">is the same, yet somehow in the</div>
<div class="t" style="left:1384.70px;top:663.00px;font-size:18.5px;letter-spacing:0.436px;">algebraically manipulation of the</div>
<div class="t" style="left:1384.70px;top:688.25px;font-size:18.5px;letter-spacing:0.430px;">algorithm the answers were altered or</div>
<div class="t" style="left:1384.70px;top:713.25px;font-size:18.5px;letter-spacing:0.243px;">the method of using linear algebra is less</div>
<div class="t" style="left:1384.70px;top:738.25px;font-size:18.5px;letter-spacing:0.379px;">accurate for this equation.</div>
<div class="t" style="left:1393.45px;top:868.75px;font-size:16.5px;letter-spacing:0.263px;">As the h variable gets smaller the data gets</div>
<div class="t" style="left:1393.45px;top:890.75px;font-size:16.5px;letter-spacing:0.282px;">more precise and accurate.</div>
<div class="t" style="left:1412.70px;top:913.75px;font-size:16.5px;letter-spacing:0.339px;">As  h approaches  0 the solution of both</div>
<div class="t" style="left:1412.70px;top:936.50px;font-size:16.5px;letter-spacing:0.517px;">methods should be the true solution</div>
<div class="t" style="left:1393.45px;top:958.75px;font-size:16.5px;letter-spacing:0.471px;">As the equation gets further away from the</div>
<div class="t" style="left:1393.45px;top:981.50px;font-size:16.5px;letter-spacing:0.482px;">initial condition the error increases</div>
<div class="t" style="left:1393.45px;top:1003.75px;font-size:16.5px;letter-spacing:0.490px;">Generally, the matrix form method is more</div>
<div class="t" style="left:1393.45px;top:1026.50px;font-size:16.5px;letter-spacing:0.360px;">efficient for solving such systems, but for this</div>
<div class="t" style="left:1393.45px;top:1049.75px;font-size:16.5px;letter-spacing:0.337px;">first-order ODE, Euler’s method produced</div>
<div class="t" style="left:1393.45px;top:1071.75px;font-size:16.5px;letter-spacing:0.397px;">results closer to the analytical solution,</div>
<div class="t" style="left:1393.45px;top:1094.75px;font-size:16.5px;letter-spacing:0.545px;">highlighting the trade-off between efficiency</div>
<div class="t" style="left:1393.45px;top:1116.75px;font-size:16.5px;letter-spacing:0.188px;">and accuracy.</div>
<div class="t h" style="left:1375.20px;top:1220.00px;font-size:13.4px;color:#000;letter-spacing:0.351px;">Funding:  U.S. Department of Education P031C210210</div>
<div class="t h" style="left:1375.20px;top:1238.00px;font-size:13.4px;color:#000;letter-spacing:0.310px;">Research Advisor:  Maryam Khazaei</div>
<div class="t h" style="left:1375.20px;top:1256.75px;font-size:13.4px;color:#000;letter-spacing:0.195px;">SJSU Microscale Process Engineering Laboratory</div>
<div class="t h" style="left:1375.20px;top:1276.00px;font-size:13.4px;color:#000;letter-spacing:0.305px;">MESA Program Director: Chynna Obana</div>
<div class="t h" style="left:1375.20px;top:1295.00px;font-size:13.4px;color:#000;letter-spacing:0.222px;">MESA Program Assistant:: Crystal Garcia</div>
<div class="t" style="left:508.70px;top:1104.25px;font-size:17.5px;color:#000;letter-spacing:0.684px;">Given:</div>
<div class="t" style="left:508.70px;top:1136.75px;font-size:17.5px;color:#000;letter-spacing:0.688px;">y(0)=0.5</div>
<div class="t" style="left:508.70px;top:1169.75px;font-size:17.5px;color:#000;letter-spacing:0.635px;">Variables:</div>
<div class="t" style="left:508.70px;top:1201.75px;font-size:17.5px;color:#000;letter-spacing:0.314px;">Step size (h)</div>
<div class="t" style="left:508.70px;top:1234.25px;font-size:17.5px;color:#000;letter-spacing:0.568px;"># of steps (n_steps)</div>
<div class="t" style="left:508.70px;top:1266.50px;font-size:17.5px;color:#000;letter-spacing:1.185px;">time (t)</div>
<div class="t" style="left:508.70px;top:1299.25px;font-size:17.5px;color:#000;letter-spacing:0.776px;">True solution (yActual)</div>
<div class="t" style="left:681.70px;top:1115.25px;font-size:19.2px;color:#000;letter-spacing:0.037px;">Absolute Error:</div>
<div class="t" style="left:681.70px;top:1144.75px;font-size:19.2px;color:#000;letter-spacing:0.732px;">|yActual-y(t)|</div>
<div class="t" style="left:681.70px;top:1173.50px;font-size:19.2px;color:#000;letter-spacing:0.281px;">Python imports:</div>
<div class="t" style="left:681.70px;top:1201.75px;font-size:19.2px;color:#000;letter-spacing:0.539px;">numpy</div>
<div class="t" style="left:681.70px;top:1230.50px;font-size:19.2px;color:#000;letter-spacing:0.653px;">matplotlib</div>
<div class="t" style="left:681.70px;top:1259.25px;font-size:19.2px;color:#000;letter-spacing:0.693px;">math</div>
<div class="t" style="left:857.45px;top:1096.00px;font-size:18.5px;color:#000;letter-spacing:0.404px;">Euler’s method</div>
<div class="t" style="left:857.45px;top:1120.50px;font-size:18.5px;color:#000;letter-spacing:0.269px;">y_n+1=y_n+h(y-t2+1)</div>
<div class="t" style="left:1088.20px;top:1098.50px;font-size:18.5px;color:#000;letter-spacing:0.392px;">Linear Algebra method</div>
<div class="t" style="left:1163.70px;top:1123.00px;font-size:18.5px;color:#000;letter-spacing:0.104px;">Ax=b</div>
<div class="t f" style="left:1382.00px;top:433.11px;font-size:11.2px;color:#ececec;font-family:'Liberation Serif','DejaVu Serif',serif;letter-spacing:1.117px;"><i>y</i> <sub><i>n</i>+1</sub>=<i>y</i><sub><i>n</i></sub> + <i>h</i>(<i>y</i><sub><i>n</i></sub> − <i>t</i><sup>2</sup> + 1 )</div>
<div class="t f" style="left:1382.00px;top:457.41px;font-size:11.2px;color:#ececec;font-family:'Liberation Serif','DejaVu Serif',serif;letter-spacing:1.000px;">⇒ <i>y</i><sub><i>n</i>+1</sub> =  <i>y</i><sub><i>n</i></sub> + <i>hy</i><sub><i>n</i></sub> −  <i>ht</i><sup>2</sup> + <i>h</i> ⇒ <i>y</i><sub><i>n</i>+1</sub> = <i>y</i><sub><i>n</i></sub>(1 + <i>h</i>) −  <i>ht</i><sup>2</sup> + <i>h</i></div>
<div class="t f" style="left:1382.00px;top:488.41px;font-size:11.2px;color:#ececec;font-family:'Liberation Serif','DejaVu Serif',serif;letter-spacing:0.989px;">⇒ <i>y</i><sub><i>n</i>+1</sub> − <i>y</i><sub><i>n</i></sub>(1 + <i>h</i>)  = −  <i>ht</i><sup>2</sup> + <i>h</i> ⇒ <i>y</i><sub><i>n</i>+1</sub> − <i>y</i><sub><i>n</i></sub>(1 + <i>h</i>)  =−  <i>h</i>(<i>t</i><sup>2</sup> − 1)</div>
<div class="t f" style="left:1382.00px;top:513.21px;font-size:11.2px;color:#ececec;font-family:'Liberation Serif','DejaVu Serif',serif;letter-spacing:1.035px;"><i>A</i>  =  <i>y</i><sub><i>n</i>+1</sub> − <i>y</i><sub><i>n</i></sub>(1 + <i>h</i>)   <i>b</i> =   −  <i>h</i>(<i>t</i><sup>2</sup> − 1)</div>
<div style="position:absolute;left:56px;top:772px;width:146px;height:3px;background:#fff"></div><div style="position:absolute;left:37px;top:1025px;width:416px;height:1px;background:#000"></div><div style="position:absolute;left:37px;top:1026px;width:416px;height:26px;background:#1f497d"></div>

</body></html>
